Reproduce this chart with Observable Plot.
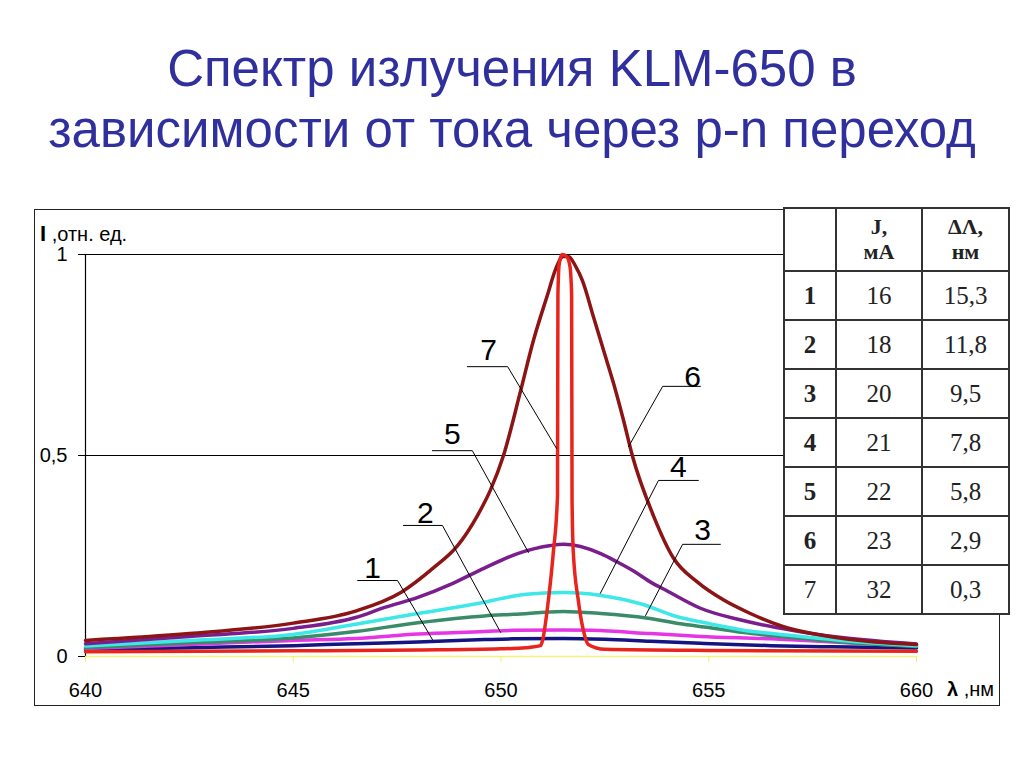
<!DOCTYPE html>
<html><head><meta charset="utf-8">
<script src="https://cdn.jsdelivr.net/npm/d3@7"></script>
<script src="https://cdn.jsdelivr.net/npm/@observablehq/plot@0.6"></script>
<style>
body{margin:0;background:#fff;}
#page{position:relative;width:1024px;height:768px;overflow:hidden;background:#fff;font-family:"Liberation Sans",Arial,sans-serif;}
#title{position:absolute;left:0;top:38px;width:1024px;text-align:center;font-size:51px;line-height:61px;color:#2f2f9e;}
#chart{position:absolute;left:34px;top:209px;}
#frame{position:absolute;left:34px;top:209px;width:966px;height:497px;border:1.5px solid #222;box-sizing:border-box;pointer-events:none;}
.lab{position:absolute;font-size:20px;color:#000;white-space:nowrap;}
#tbl{position:absolute;left:783px;top:207px;width:225px;height:406px;border-collapse:collapse;background:#fff;font-family:"Liberation Serif","Times New Roman",serif;font-size:25px;color:#222;table-layout:fixed;}
#tbl td{border:2px solid #333;text-align:center;padding:0;line-height:1.1;}
#tbl tr.h td{font-weight:bold;font-size:22px;}
</style></head>
<body><div id="page">
<div id="title">Спектр излучения KLM-650 в<br>зависимости от тока через p-n переход</div>
<div id="chart"></div>
<div id="frame"></div>
<div class="lab" style="left:40px;top:221px;"><b style="font-size:22px">I</b> ,отн. ед.</div>
<div class="lab" style="left:947px;top:678px;"><b>λ</b> ,нм</div>
<table id="tbl"></table>
</div>
<script>
// ---- data ----
const xTicks = [640, 645, 650, 655, 660];
const yTicks = [0, 0.5, 1];
const gridValues = [0.5, 1];

const curve1 = [[640,0.017],[642.5,0.022],[645,0.027],[646.5,0.032],[648,0.036],[649.6,0.042],[650.3,0.044],[651.5,0.045],[652.5,0.043],[653.6,0.038],[654.8,0.033],[656.5,0.027],[658,0.024],[660,0.021]];
const curve2 = [[640,0.02],[642.5,0.03],[645,0.04],[646.5,0.045],[648,0.056],[649.6,0.062],[650.3,0.065],[651.5,0.066],[652.2,0.065],[653.6,0.057],[654.8,0.05],[656.5,0.044],[658.2,0.035],[660,0.026]];
const curve3 = [[640,0.022],[642.5,0.034],[645,0.046],[646.5,0.062],[648,0.084],[649.6,0.101],[650.3,0.105],[651.5,0.112],[652.4,0.107],[653.5,0.096],[654.4,0.08],[655,0.072],[655.8,0.06],[657,0.047],[658.2,0.036],[660,0.025]];
const curve4 = [[640,0.026],[642.5,0.04],[645,0.055],[646.5,0.08],[648,0.107],[649.6,0.135],[650,0.144],[650.6,0.155],[651.5,0.159],[652.4,0.152],[653.4,0.13],[654.2,0.1],[655,0.082],[655.8,0.066],[657,0.052],[658.2,0.04],[660,0.027]];
const curve5 = [[640,0.032],[642.5,0.05],[645,0.07],[646.5,0.097],[647.2,0.122],[648,0.147],[648.8,0.18],[649.6,0.22],[650.4,0.256],[651.2,0.276],[651.5,0.279],[652.4,0.256],[652.8,0.235],[653.2,0.212],[653.6,0.185],[654,0.163],[654.8,0.12],[655.8,0.09],[657,0.065],[658.2,0.047],[660,0.031]];
const curve6 = [[640,0.04],[642.5,0.057],[645,0.083],[646.5,0.113],[647.6,0.16],[648.38,0.221],[648.95,0.275],[649.43,0.35],[649.75,0.415],[650.06,0.5],[650.47,0.66],[650.78,0.786],[651.12,0.9],[651.32,0.965],[651.5,0.995],[651.62,0.995],[651.8,0.97],[651.96,0.935],[652.23,0.843],[652.47,0.761],[652.71,0.679],[652.95,0.587],[653.16,0.5],[653.67,0.35],[654.15,0.245],[654.73,0.185],[655.35,0.141],[656,0.107],[656.8,0.074],[657.76,0.052],[659,0.036],[660,0.03]];
const curve7 = [[640,0.012],[645,0.014],[648,0.016],[650,0.019],[650.6,0.022],[650.95,0.027],[651.0,0.04],[651.14,0.14],[651.26,0.26],[651.36,0.40],[651.37,0.9],[651.40,0.975],[651.47,1.0],[651.58,0.995],[651.66,0.97],[651.70,0.9],[651.71,0.39],[651.74,0.26],[651.86,0.14],[652.02,0.05],[652.1,0.03],[652.5,0.018],[655,0.015],[660,0.013]];

const curveColors = ["#141482","#e535e5","#3a8c68","#3ee8e8","#7a1e8e","#8c1414","#e8241c"];

const labelNames = ["1","2","3","4","5","6","7"];
const labelX = [646.91, 648.18, 654.85, 654.27, 648.83, 654.61, 649.70];
const labelY = [0.219, 0.356, 0.313, 0.470, 0.552, 0.694, 0.761];
const leaderLines = [
  [[646.55,0.189],[647.51,0.189],[648.35,0.042]],
  [[647.65,0.326],[648.59,0.326],[649.99,0.06]],
  [[655.28,0.279],[654.37,0.279],[653.48,0.102]],
  [[654.75,0.438],[653.79,0.438],[652.39,0.157]],
  [[648.35,0.512],[649.31,0.512],[650.66,0.259]],
  [[654.80,0.672],[653.89,0.672],[653.07,0.522]],
  [[649.19,0.721],[650.16,0.721],[651.34,0.517]]
];

const tableHeadJ = ["J,", "мА"];
const tableHeadD = ["ΔΛ,", "нм"];
const tableRows = ["1","2","3","4","5","6","7"];
const currents = ["16","18","20","21","22","23","32"];
const widths = ["15,3","11,8","9,5","7,8","5,8","2,9","0,3"];

// ---- chart ----
const curves = [curve1, curve2, curve3, curve4, curve5, curve6, curve7];
const leaderData = leaderLines.flatMap((pts, i) => pts.map(p => ({x: p[0], y: p[1], k: i})));
const labelData = labelNames.map((t, i) => ({t, x: labelX[i], y: labelY[i]}));

const chart = Plot.plot({
  width: 966, height: 497,
  marginLeft: 51, marginRight: 84, marginTop: 45, marginBottom: 50,
  style: {fontFamily: '"Liberation Sans", Arial, sans-serif', fontSize: "20px", color: "#000", background: "transparent", overflow: "visible"},
  x: {domain: [640, 660]},
  y: {domain: [0, 1]},
  marks: [
    Plot.ruleY(gridValues, {stroke: "#000", strokeWidth: 1}),
    Plot.ruleX([640], {y1: 0, y2: 1, stroke: "#000", strokeWidth: 1.2}),
    Plot.ruleY([0], {stroke: "#f3f37a", strokeWidth: 1.5}),
    Plot.axisX(xTicks, {anchor: "bottom", tickFormat: d => String(d), stroke: "#eeee70", tickSize: 6, tickPadding: 20, fontSize: 20, label: null}),
    Plot.axisY(yTicks, {anchor: "left", tickFormat: d => String(d).replace(".", ","), stroke: "#000", tickSize: 7, tickPadding: 11, fontSize: 20, label: null}),
    ...curves.map((c, i) => Plot.line(c, {x: d => d[0], y: d => d[1], stroke: curveColors[i], strokeWidth: 3.5, curve: "monotone-x"})),
    Plot.line(leaderData, {x: "x", y: "y", z: "k", stroke: "#000", strokeWidth: 1}),
    Plot.text(labelData, {x: "x", y: "y", text: "t", fontSize: 30, fill: "#000"})
  ]
});
document.getElementById("chart").appendChild(chart);

// ---- table ----
const tbl = document.getElementById("tbl");
const colW = [52, 86, 87];
let html = '<colgroup>' + colW.map(w => `<col style="width:${w}px">`).join('') + '</colgroup>';
html += `<tr class="h" style="height:63px"><td></td><td>${tableHeadJ.join('<br>')}</td><td>${tableHeadD.join('<br>')}</td></tr>`;
tableRows.forEach((r, i) => {
  html += `<tr style="height:49px"><td style="font-weight:${i === 6 ? 'normal' : 'bold'}">${r}</td><td>${currents[i]}</td><td>${widths[i]}</td></tr>`;
});
tbl.innerHTML = html;
</script>
</body></html>
